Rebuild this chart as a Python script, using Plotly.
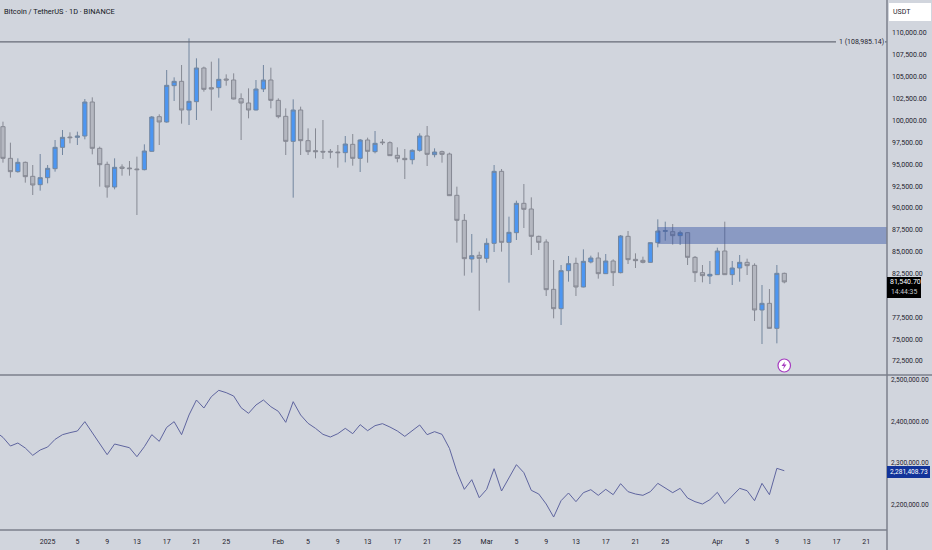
import pandas as pd
import plotly.graph_objects as go

W, H = 932, 550

open_ = [
    99291, 95671, 94146, 95213, 93613, 92660, 93460, 94489, 96928, 98110,
    98072, 98224, 102111, 96814, 94985, 92393, 94680, 94565, 94451, 94375,
    96471, 100434, 99825, 103979, 104474, 101197, 102149, 105998, 103750, 103750,
    104741, 104626, 102492, 101997, 101197, 103598, 104626, 102302, 100473, 97614,
    101197, 97691, 96547, 96471, 96471, 96395, 96319, 97271, 95671, 97767,
    96433, 97538, 97462, 96014, 95671, 95518, 96585, 98224, 96090, 96433,
    96166, 91441, 88582, 84162, 84581, 84238, 85953, 94185, 86067, 87172,
    90526, 89878, 86753, 86105, 80694, 78483, 82828, 83666,
    80960, 83819, 84276, 82485, 83933, 82599, 86753, 84123, 84009, 83780,
    86029, 87325, 87287, 86829, 87172, 84352, 82599, 82218, 82370, 85076,
    82370, 83133, 83780, 83437, 78331, 79093, 76235, 82523,
]
high = [
    99863, 97462, 95671, 95300, 94908, 96166, 94908, 97767, 98910, 98643,
    98719, 102454, 102645, 97004, 95290, 95671, 94985, 95366, 95861, 97271,
    100511, 100701, 105770, 104931, 106341, 109390, 107104, 106151, 106723, 107104,
    105274, 105389, 103102, 103674, 104626, 106341, 106037, 102530, 101387, 102416,
    101578, 99101, 99101, 100053, 96738, 97195, 98224, 98453, 97881, 98034,
    98796, 97881, 97614, 96928, 96738, 96700, 98529, 99368, 96814, 96547,
    96319, 92431, 89306, 87020, 85000, 86524, 94909, 94451, 89002, 90831,
    92736, 91212, 86830, 86410, 84047, 83476, 84505, 84314,
    85267, 84543, 84924, 84733, 84123, 86905, 87363, 84809, 84428, 86067,
    88697, 88430, 88163, 87401, 87210, 84505, 83476, 83933, 85457, 88430,
    83933, 84619, 84200, 83666, 81189, 80732, 83476, 82599,
]
low = [
    95175, 93460, 94032, 92889, 91479, 91974, 92812, 94146, 96052, 97386,
    97195, 97843, 96128, 92431, 91174, 92126, 93689, 93689, 89192, 94299,
    96433, 97195, 99748, 102226, 99634, 99482, 100053, 103293, 101120, 102607,
    103979, 102416, 97767, 100244, 101158, 103255, 101387, 100244, 96052, 91174,
    96052, 96052, 95671, 95595, 95671, 94604, 95214, 94832, 94108, 95175,
    96242, 97195, 95938, 95214, 93308, 94985, 96433, 94794, 95785, 95175,
    91364, 86029, 82256, 82599, 78255, 83742, 84962, 85000, 81456, 86334,
    87706, 84619, 85191, 79931, 77378, 76616, 81570, 79931,
    80922, 83666, 81913, 82447, 81075, 82523, 83590, 83133, 83666, 83742,
    85495, 86258, 85800, 85762, 83476, 81532, 81494, 81303, 82332, 82332,
    81189, 81570, 82332, 77073, 74443, 76197, 74520, 81380,
]
close = [
    95671, 94146, 95213, 93575, 92622, 93460, 94527, 96928, 98072, 98033,
    98224, 102111, 96814, 94947, 92393, 94642, 94527, 94489, 94375, 96509,
    100396, 99825, 104017, 104474, 101197, 102187, 105998, 103559, 103598, 104703,
    104626, 102454, 101997, 101197, 103598, 104626, 102302, 100434, 97614, 101197,
    97691, 96433, 96433, 96395, 96395, 96319, 97310, 95671, 97767, 96471,
    97386, 97462, 95976, 95671, 95518, 96585, 98224, 96128, 96395, 96128,
    91403, 88582, 84200, 84543, 84238, 85953, 94185, 86067, 87210, 90526,
    89840, 86753, 86067, 80656, 78483, 82828, 83628, 80960,
    83895, 84276, 82485, 83933, 82599, 86791, 84085, 83971, 83780, 86029,
    87363, 87401, 86829, 87172, 84352, 82599, 82256, 82409, 85076, 82370,
    83133, 83780, 83399, 78331, 79093, 76235, 82523, 81540.70,
]
# lower pane, starts one day before the first candle
lower = [
    2375500,
    2361800, 2340900, 2348200, 2336100, 2318500, 2331300, 2338500, 2357000, 2368300, 2373100,
    2377100, 2399600, 2373900, 2347400, 2320100, 2345800, 2341800, 2336900, 2315200, 2339300,
    2368300, 2352200, 2385900, 2399600, 2368300, 2415700, 2451800, 2432500, 2459800, 2475100,
    2469500, 2461400, 2433300, 2419700, 2439800, 2451800, 2435700, 2424500, 2398000, 2447800,
    2415700, 2395600, 2383500, 2369100, 2362600, 2370700, 2383500, 2370700, 2392400, 2377900,
    2390000, 2394800, 2386700, 2377100, 2364200, 2377900, 2391600, 2368300, 2375500, 2369100,
    2335300, 2279100,
    2236500, 2259800, 2216400, 2236500, 2286300, 2232500, 2264600, 2296000, 2276700, 2234100,
    2225300, 2201200, 2169800, 2209200, 2227700, 2206800, 2228500, 2235700, 2222100, 2236500,
    2223700, 2250200, 2230900, 2225300, 2222100, 2230900, 2251000, 2239700, 2228500, 2238900,
    2215600, 2206800, 2201200, 2211600, 2229300, 2202000, 2220500, 2238900, 2233300, 2209200,
    2251000, 2223700, 2287100, 2281408.73,
]
x_tick_dates = [
    "2025-01-01", "2025-01-05", "2025-01-09", "2025-01-13", "2025-01-17", "2025-01-21", "2025-01-25",
    "2025-02-01", "2025-02-05", "2025-02-09", "2025-02-13", "2025-02-17", "2025-02-21", "2025-02-25",
    "2025-03-01", "2025-03-05", "2025-03-09", "2025-03-13", "2025-03-17", "2025-03-21", "2025-03-25",
    "2025-04-01", "2025-04-05", "2025-04-09", "2025-04-13", "2025-04-17", "2025-04-21",
]
x_tick_text = [
    "2025", "5", "9", "13", "17", "21", "25",
    "Feb", "5", "9", "13", "17", "21", "25",
    "Mar", "5", "9", "13", "17", "21", "25",
    "Apr", "5", "9", "13", "17", "21",
]
# 80,000 sits behind the last price tag in the original
price_ticks = [
    72500, 75000, 77500, 82500, 85000, 87500, 90000, 92500,
    95000, 97500, 100000, 102500, 105000, 107500, 110000,
]
lower_ticks = [2200000, 2300000, 2400000, 2500000]
alert_level = 108985.14
zone_start = "2025-03-24"
zone_top, zone_bottom = 87820, 85876

BG = "#d1d5dd"
AXIS = "#7b7f8b"
TEXT = "#1f232e"
FONT = "Roboto, sans-serif"

dates = pd.date_range("2024-12-26", periods=len(close), freq="D")
line_dates = pd.date_range("2024-12-25", periods=len(lower), freq="D")


def px(x):
    return x / W


def py(y):
    return 1 - y / H


fig = go.Figure()
fig.add_trace(go.Candlestick(
    x=dates, open=open_, high=high, low=low, close=close,
    increasing=dict(line=dict(color="#72869f", width=1), fillcolor="#4c96f2"),
    decreasing=dict(line=dict(color="#868993", width=1), fillcolor="#b4b7c0"),
    whiskerwidth=0,
    yaxis="y",
    showlegend=False,
))
fig.add_trace(go.Scatter(
    x=line_dates, y=lower, mode="lines",
    line=dict(color="#5f659f", width=1),
    yaxis="y2",
    showlegend=False,
))


def rule(x0, y0, x1, y1, width=1.5, color=AXIS):
    fig.add_shape(type="line", xref="paper", yref="paper",
                  x0=px(x0), y0=py(y0), x1=px(x1), y1=py(y1),
                  line=dict(color=color, width=width))


def label(x, y, text, color=TEXT, size=7, anchor="left"):
    fig.add_annotation(xref="paper", yref="paper", x=px(x), y=py(y), text=text,
                       showarrow=False, xanchor=anchor, yanchor="middle",
                       font=dict(family=FONT, size=size, color=color))


def box(x0, y0, x1, y1, color):
    fig.add_shape(type="rect", xref="paper", yref="paper",
                  x0=px(x0), y0=py(y0), x1=px(x1), y1=py(y1),
                  fillcolor=color, line=dict(width=0))


# resistance zone and the horizontal level
fig.add_shape(type="rect", xref="x", yref="y", x0=zone_start, x1=dates[-1] + pd.Timedelta(days=14),
              y0=zone_bottom, y1=zone_top, fillcolor="rgba(51,82,165,0.45)", line=dict(width=0))
fig.add_shape(type="line", xref="paper", yref="y", x0=0, x1=px(836), y0=alert_level, y1=alert_level,
              line=dict(color="#666a76", width=1.2))
fig.add_shape(type="line", xref="paper", yref="y", x0=px(885), x1=px(887), y0=alert_level, y1=alert_level,
              line=dict(color="#666a76", width=1.2))
fig.add_annotation(xref="paper", yref="y", x=px(837), y=alert_level, text="1 (108,985.14)",
                   showarrow=False, xanchor="left", yanchor="middle",
                   font=dict(family=FONT, size=7, color=TEXT))

# pane separators
rule(0, 375, W, 375)
rule(0, 530, 887, 530)
rule(887, 0, 887, H)

# title and top right box
label(2, 11.5, "Bitcoin / TetherUS · 1D · BINANCE", size=7.4, color="#131722")
box(889, 3, 931, 21, "#ffffff")
label(891, 12, "USDT", size=7)

# last price tags
box(887, 277, 921, 298, "#000000")
label(888, 282, "81,540.70", color="#ffffff", size=7)
label(889, 292, "14:44:35", color="#c8cad0", size=6.8)
box(887, 466, 930, 478, "#12349a")
label(887.5, 472, "2,281,408.73", color="#ffffff", size=6.6)

# flash marker
fig.add_shape(type="circle", xref="paper", yref="paper",
              x0=px(778), y0=py(359), x1=px(790.5), y1=py(372),
              fillcolor="#ffffff", line=dict(color="#a63cc0", width=1.2))
bolt = [(785, 361.5), (781.5, 366), (784, 366), (783, 369.5), (786.5, 364.5), (784.2, 364.5)]
bolt_path = "M" + " L".join(f"{px(a):.5f},{py(b):.5f}" for a, b in bolt) + " Z"
fig.add_shape(type="path", xref="paper", yref="paper", path=bolt_path,
              fillcolor="#a63cc0", line=dict(width=0))

axis_font = dict(family=FONT, size=7, color=TEXT)
fig.update_layout(
    width=W, height=H,
    margin=dict(l=0, r=0, t=0, b=0),
    paper_bgcolor=BG, plot_bgcolor=BG,
    boxgap=0.2,
    showlegend=False,
    xaxis=dict(
        type="date",
        domain=[0, px(887)],
        range=["2024-12-25 14:24", "2025-04-23 19:12"],
        anchor="y2",
        rangeslider=dict(visible=False),
        tickmode="array", tickvals=x_tick_dates, ticktext=x_tick_text,
        tickfont=axis_font, tickangle=0,
        showgrid=False, zeroline=False, showline=False,
        ticks="outside", ticklen=5, tickcolor="rgba(0,0,0,0)",
    ),
    yaxis=dict(
        domain=[py(375), 1],
        range=[70900, 113773],
        side="right", anchor="x",
        tickmode="array", tickvals=price_ticks, tickformat=",.2f",
        tickfont=axis_font,
        showgrid=False, zeroline=False, showline=False,
        ticks="", ticklabelstandoff=4,
    ),
    yaxis2=dict(
        domain=[py(530), py(376)],
        range=[2138530, 2509670],
        side="right", anchor="x",
        tickmode="array", tickvals=lower_ticks, tickformat=",.2f",
        tickfont=dict(family=FONT, size=6.6, color=TEXT),
        showgrid=False, zeroline=False, showline=False,
        ticks="", ticklabelstandoff=3,
    ),
)

fig.write_html("out.html", config=dict(displayModeBar=False),
               post_script="document.body.style.margin='0';")
